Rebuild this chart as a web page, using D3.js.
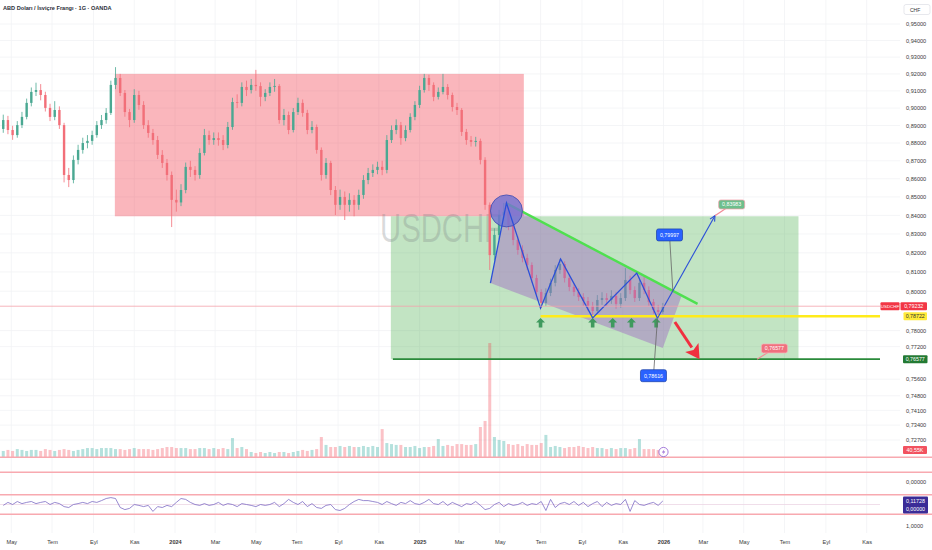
<!DOCTYPE html>
<html>
<head>
<meta charset="utf-8">
<script src="https://d3js.org/d3.v7.min.js"></script>
<style>
  body { margin: 0; background: #fff; }
  text { font-family: "Liberation Sans", Arial, sans-serif; }
  .ptick text { font-size: 5.6px; fill: #3a3a3a; }
  .ttick text { font-size: 5.6px; fill: #3a3a3a; }
  .ptick .domain, .ttick .domain { display: none; }
  .badge-txt { font-size: 5.3px; text-anchor: middle; }
</style>
</head>
<body>
<svg id="chart" width="932" height="550"></svg>
<script>
// weekly candles, first week starts on this monday
const firstWeek = "2023-04-17";

const opens = [0.8880,0.8931,0.8874,0.8845,0.8902,0.8949,0.9030,0.9094,0.9105,0.9076,
 0.9001,0.8949,0.8989,0.8902,0.8621,0.8593,0.8705,0.8761,0.8800,0.8812,
 0.8845,0.8902,0.8931,0.8972,0.9135,0.9176,0.9088,0.8977,0.8931,0.9076,
 0.9018,0.8902,0.8857,0.8817,0.8733,0.8688,0.8621,0.8484,0.8470,0.8538,
 0.8666,0.8649,0.8621,0.8744,0.8845,0.8817,0.8828,0.8817,0.8789,0.8891,
 0.9035,0.9030,0.9123,0.9105,0.9135,0.9128,0.9065,0.9088,0.9123,0.9129,
 0.8931,0.8960,0.8874,0.8977,0.9030,0.8972,0.8874,0.8891,0.8761,0.8621,
 0.8688,0.8538,0.8457,0.8500,0.8457,0.8484,0.8457,0.8511,0.8593,0.8632,
 0.8649,0.8666,0.8649,0.8817,0.8874,0.8902,0.8828,0.8874,0.8949,0.9018,
 0.9105,0.9176,0.9135,0.9065,0.9094,0.9123,0.9076,0.9006,0.8989,0.8863,
 0.8817,0.8806,0.8812,0.8705,0.8457,0.8188,0.8295,0.8402,0.8419,0.8348,
 0.8268,0.8215,0.8173,0.8136,0.8068,0.7996,0.7940,0.7991,0.8043,0.8110,
 0.8141,0.8068,0.8022,0.7996,0.7970,0.7950,0.7924,0.7899,0.7955,0.7965,
 0.7955,0.7976,0.7935,0.7965,0.8058,0.8006,0.7965,0.8043,0.8006,0.7945,
 0.7904,0.7894];

const highs = [0.8962,0.8955,0.8898,0.8925,0.8978,0.9055,0.9120,0.9148,0.9140,0.9095,
 0.9025,0.9040,0.9010,0.8915,0.8660,0.8730,0.8790,0.8830,0.8845,0.8870,
 0.8925,0.8960,0.9000,0.9160,0.9240,0.9200,0.9105,0.8995,0.9110,0.9100,
 0.9040,0.8930,0.8880,0.8840,0.8760,0.8710,0.8640,0.8540,0.8570,0.8690,
 0.8700,0.8670,0.8770,0.8880,0.8870,0.8860,0.8860,0.8845,0.8920,0.9060,
 0.9080,0.9150,0.9160,0.9170,0.9224,0.9150,0.9110,0.9150,0.9170,0.9140,
 0.8995,0.8980,0.9000,0.9060,0.9050,0.8990,0.8925,0.8905,0.8775,0.8715,
 0.8700,0.8560,0.8540,0.8530,0.8520,0.8510,0.8540,0.8620,0.8660,0.8680,
 0.8695,0.8700,0.8845,0.8900,0.8935,0.8920,0.8900,0.8970,0.9040,0.9130,
 0.9200,0.9195,0.9150,0.9120,0.9200,0.9140,0.9090,0.9030,0.9000,0.8880,
 0.8840,0.8835,0.8825,0.8720,0.8470,0.8330,0.8430,0.8467,0.8440,0.8370,
 0.8290,0.8240,0.8195,0.8150,0.8085,0.8010,0.8015,0.8065,0.8135,0.8168,
 0.8155,0.8085,0.8040,0.8015,0.7990,0.7970,0.7945,0.7980,0.7995,0.7990,
 0.8005,0.7995,0.7990,0.8120,0.8080,0.8025,0.8070,0.8075,0.8025,0.7960,
 0.7930,0.7940];

const lows = [0.8858,0.8850,0.8818,0.8830,0.8885,0.8935,0.9010,0.9070,0.9045,0.8980,
 0.8925,0.8930,0.8880,0.8580,0.8554,0.8575,0.8680,0.8740,0.8770,0.8790,
 0.8830,0.8880,0.8910,0.8960,0.9110,0.9070,0.8950,0.8890,0.8915,0.8990,
 0.8880,0.8830,0.8790,0.8710,0.8660,0.8590,0.8337,0.8420,0.8450,0.8520,
 0.8610,0.8590,0.8600,0.8730,0.8790,0.8790,0.8785,0.8760,0.8770,0.8875,
 0.9000,0.9010,0.9070,0.9085,0.9100,0.9010,0.9040,0.9070,0.9095,0.8910,
 0.8900,0.8850,0.8860,0.8960,0.8950,0.8850,0.8855,0.8740,0.8590,0.8600,
 0.8510,0.8402,0.8430,0.8375,0.8420,0.8395,0.8430,0.8490,0.8570,0.8610,
 0.8625,0.8620,0.8630,0.8800,0.8850,0.8790,0.8810,0.8860,0.8930,0.9000,
 0.9090,0.9100,0.9040,0.9050,0.9080,0.9050,0.8980,0.8960,0.8840,0.8790,
 0.8780,0.8780,0.8680,0.8430,0.8110,0.8160,0.8270,0.8370,0.8320,0.8240,
 0.8190,0.8150,0.8110,0.8045,0.7975,0.7914,0.7925,0.7975,0.8025,0.8090,
 0.8045,0.8000,0.7975,0.7950,0.7925,0.7900,0.7874,0.7885,0.7930,0.7925,
 0.7935,0.7910,0.7915,0.7950,0.7985,0.7945,0.7950,0.7985,0.7925,0.7885,
 0.7874,0.7885];

const closes = [0.8931,0.8874,0.8845,0.8902,0.8949,0.9030,0.9094,0.9105,0.9076,0.9001,
 0.8949,0.8989,0.8902,0.8621,0.8593,0.8705,0.8761,0.8800,0.8812,0.8845,
 0.8902,0.8931,0.8972,0.9135,0.9176,0.9088,0.8977,0.8931,0.9076,0.9018,
 0.8902,0.8857,0.8817,0.8733,0.8688,0.8621,0.8484,0.8470,0.8538,0.8666,
 0.8649,0.8621,0.8744,0.8845,0.8817,0.8828,0.8817,0.8789,0.8891,0.9035,
 0.9030,0.9123,0.9105,0.9135,0.9128,0.9065,0.9088,0.9123,0.9129,0.8931,
 0.8960,0.8874,0.8977,0.9030,0.8972,0.8874,0.8891,0.8761,0.8621,0.8688,
 0.8538,0.8457,0.8500,0.8457,0.8484,0.8457,0.8511,0.8593,0.8632,0.8649,
 0.8666,0.8649,0.8817,0.8874,0.8902,0.8828,0.8874,0.8949,0.9018,0.9105,
 0.9176,0.9135,0.9065,0.9094,0.9123,0.9076,0.9006,0.8989,0.8863,0.8817,
 0.8806,0.8812,0.8705,0.8457,0.8188,0.8295,0.8402,0.8419,0.8348,0.8268,
 0.8215,0.8173,0.8136,0.8068,0.7996,0.7940,0.7991,0.8043,0.8110,0.8141,
 0.8068,0.8022,0.7996,0.7970,0.7950,0.7924,0.7899,0.7955,0.7965,0.7955,
 0.7976,0.7935,0.7965,0.8058,0.8006,0.7965,0.8043,0.8006,0.7945,0.7904,
 0.7894,0.79232];

// volume in K
const volumes = [35,41,35,46,41,35,41,41,35,46,41,35,41,46,41,35,41,
 46,52,52,46,52,52,52,
 46,46,41,46,52,46,46,46,41,46,52,
 58,58,52,
 52,52,46,46,52,52,46,52,46,52,46,
 110,
 52,58,46,
 29,23,29,23,29,23,29,29,23,29,
 35,41,35,41,
 46,116,
 70,58,58,64,58,64,58,58,64,58,64,58,
 162,
 81,75,70,70,
 58,58,64,52,58,58,64,
 104,
 64,70,64,75,75,70,
 70,75,
 174,209,661,116,99,93,
 75,70,75,64,75,70,70,81,
 128,
 58,64,58,52,58,58,64,58,52,58,
 52,52,46,52,46,52,52,46,52,
 104,
 46,46,46,41,40.55];

// lower oscillator pane
const osc = [-0.03,0.07,0,0.1,0.03,0.07,0.1,0.03,0.07,0.1,0,0.07,0.03,-0.07,-0.1,0,0.03,0.07,0.03,0.1,0.07,
 0.13,0.2,0.23,0.2,
 -0.1,-0.17,-0.13,
 0,-0.03,-0.07,-0.03,
 -0.23,
 -0.07,-0.1,-0.03,-0.07,
 0.07,0.2,0.17,0.07,
 0,-0.03,0.03,-0.03,0,0.07,-0.03,0.03,0,-0.07,0.03,0,-0.03,-0.07,0,
 -0.03,0,0.07,-0.07,0.03,0.17,0.07,
 0,0.1,-0.07,0.03,-0.1,-0.13,-0.03,0,
 -0.17,-0.2,-0.13,0,
 0.1,0.17,0.13,0.13,0.1,0.07,
 0,0.1,0.03,-0.03,0.07,0.03,0.13,0.03,0,0.07,
 0.17,0.03,0,0.1,-0.03,0.07,0,-0.07,0.03,0,
 0.1,-0.03,-0.17,-0.13,0,0.07,-0.07,0.03,-0.03,0,
 0.07,-0.03,0.03,0,0.1,-0.2,0.17,-0.1,0.03,0.07,
 0,0.1,-0.03,0.07,-0.07,0.03,0.1,-0.07,0.07,-0.03,
 0.03,0,0.17,-0.23,0.13,0,-0.03,0.03,0.07,-0.03,0.11728];

const priceTicks = [0.95,0.94,0.93,0.92,0.91,0.90,0.89,0.88,0.87,0.86,0.85,0.84,0.83,0.82,0.81,0.80,0.78,0.772,0.756,0.748,0.741,0.734,0.727];
const monthTicks = ["2023-05-01","2023-07-01","2023-09-01","2023-11-01","2024-01-01","2024-03-01","2024-05-01","2024-07-01","2024-09-01","2024-11-01","2025-01-01","2025-03-01","2025-05-01","2025-07-01","2025-09-01","2025-11-01","2026-01-01","2026-03-01","2026-05-01","2026-07-01","2026-09-01","2026-11-01"];
const monthLabels = ["May","Tem","Eyl","Kas","2024","Mar","May","Tem","Eyl","Kas","2025","Mar","May","Tem","Eyl","Kas","2026","Mar","May","Tem","Eyl","Kas"];

// drawings on the chart (date, price)
const zoneDates = [["2023-10-03","2025-06-06"], ["2024-11-19","2026-07-22"]];
const zonePrices = [[0.92,0.8395], [0.8395,0.76577]];
const channel = [["2025-04-17",0.8042],["2025-05-11",0.8467],["2026-01-28",0.7976],["2025-12-31",0.7713]];
const zigzag = [["2025-04-17",0.8042],["2025-05-11",0.8467],["2025-07-01",0.7913],["2025-07-31",0.8168],["2025-09-17",0.7864],["2025-11-22",0.8094],["2025-12-23",0.78616]];
const targetArrow = [["2025-12-23",0.78616],["2026-03-19",0.83983]];
const trendLine = [["2025-05-10",0.8467],["2026-02-21",0.7935]];
const topCircle = ["2025-05-11",0.8424];
const dropArrow = [["2026-01-18",0.7843],["2026-02-24",0.7658]];
const supportDates = ["2025-07-01","2025-09-17","2025-10-17","2025-11-14","2025-12-21"];
const supportPrice = 0.7864;
const yellowLine = ["2025-07-01",0.78722];
const greenLine = ["2024-11-22",0.76577];
const lastPrice = 0.79232;
const noteText = ["0,79997","0,78616","0,83983","0,76577"];
const notePoint = [["2026-01-15",0.79997],["2025-12-23",0.78616],["2026-03-19",0.83983],["2026-05-21",0.76577]];
const noteBox = [["2026-01-10",0.8295],["2025-12-17",0.7577],["2026-04-13",0.8459],["2026-06-16",0.7711]];

const parse = d3.timeParse("%Y-%m-%d");
const svg = d3.select("#chart");
const plotRight = 880, paneBottom = 457;

const x = d3.scaleTime().domain([new Date(2024,0,1), new Date(2026,0,1)]).range([175, 663.5]);
const y = d3.scaleLog().domain([0.727, 0.95]).range([440, 24]);
const vy = d3.scaleLinear().domain([0, 700]).range([paneBottom, paneBottom - 700/5.8]);
const oy = d3.scaleLinear().domain([-0.25, 0.25]).range([512, 497]);

const week = i => d3.timeDay.offset(parse(firstWeek), i * 7 + 2);
const px = d => x(parse(d[0]));
const py = d => y(d[1]);

svg.append("defs").append("clipPath").attr("id", "main")
  .append("rect").attr("x", 0).attr("y", 0).attr("width", plotRight).attr("height", paneBottom);

// grid
const grid = svg.append("g").attr("stroke", "#f1f2f5").attr("stroke-width", 0.8);
grid.selectAll("line.h").data(priceTicks).join("line")
  .attr("x1", 0).attr("x2", 900).attr("y1", d => y(d)).attr("y2", d => y(d));
grid.selectAll("line.v").data(monthTicks).join("line")
  .attr("x1", d => x(parse(d))).attr("x2", d => x(parse(d))).attr("y1", 0).attr("y2", 533);

const main = svg.append("g").attr("clip-path", "url(#main)");

// zones
main.selectAll("rect.zone").data(zoneDates).join("rect")
  .attr("x", d => x(parse(d[0])))
  .attr("width", d => x(parse(d[1])) - x(parse(d[0])))
  .attr("y", (d, i) => y(zonePrices[i][0]))
  .attr("height", (d, i) => y(zonePrices[i][1]) - y(zonePrices[i][0]))
  .attr("fill", (d, i) => i === 0 ? "rgba(242,54,69,0.36)" : "rgba(76,175,80,0.34)");

// watermark
main.append("text").attr("x", 380).attr("y", 242)
  .attr("textLength", 122).attr("lengthAdjust", "spacingAndGlyphs")
  .style("font-size", "41px").attr("fill", "rgba(120,125,130,0.28)").text("USDCHF");

// volume
main.selectAll("rect.vol").data(volumes).join("rect")
  .attr("x", (d, i) => x(week(i)) - 1.5).attr("width", 3)
  .attr("y", d => vy(d)).attr("height", d => paneBottom - vy(d))
  .attr("fill", (d, i) => closes[i] >= opens[i] ? "rgba(38,166,154,0.34)" : "rgba(242,54,69,0.3)");

// candles
const candles = main.selectAll("g.c").data(closes).join("g")
  .attr("stroke", (d, i) => d >= opens[i] ? "#4aa892" : "#f26f79")
  .attr("fill", (d, i) => d >= opens[i] ? "#4aa892" : "#f26f79");
candles.append("line")
  .attr("x1", (d, i) => x(week(i))).attr("x2", (d, i) => x(week(i)))
  .attr("y1", (d, i) => y(highs[i])).attr("y2", (d, i) => y(lows[i]))
  .attr("stroke-width", 0.8);
candles.append("rect")
  .attr("x", (d, i) => x(week(i)) - 1.2).attr("width", 2.4)
  .attr("y", (d, i) => y(Math.max(d, opens[i])))
  .attr("height", (d, i) => Math.max(0.6, Math.abs(y(d) - y(opens[i]))))
  .attr("stroke", "none");

// channel
main.append("polygon")
  .attr("points", channel.map(d => [px(d), py(d)].join(",")).join(" "))
  .attr("fill", "rgba(160,105,195,0.45)");

// current price line
svg.append("line").attr("x1", 0).attr("x2", plotRight).attr("y1", y(lastPrice)).attr("y2", y(lastPrice))
  .attr("stroke", "#f5a3ab").attr("stroke-width", 0.8);

// horizontal levels
main.append("line").attr("x1", px(yellowLine)).attr("x2", plotRight)
  .attr("y1", py(yellowLine)).attr("y2", py(yellowLine))
  .attr("stroke", "#ffeb1a").attr("stroke-width", 2.6);
main.append("line").attr("x1", px(greenLine)).attr("x2", plotRight)
  .attr("y1", py(greenLine)).attr("y2", py(greenLine))
  .attr("stroke", "#2a8a3a").attr("stroke-width", 1.8);

// trend line
main.append("line").attr("x1", px(trendLine[0])).attr("y1", py(trendLine[0]))
  .attr("x2", px(trendLine[1])).attr("y2", py(trendLine[1]))
  .attr("stroke", "#4fe04f").attr("stroke-width", 2.4);

// circle at top
main.append("circle").attr("cx", px(topCircle)).attr("cy", py(topCircle)).attr("r", 16)
  .attr("fill", "rgba(115,115,210,0.82)").attr("stroke", "#3f4bb0").attr("stroke-width", 0.8);

// zigzag
const line = d3.line().x(px).y(py);
main.append("path").attr("d", line(zigzag)).attr("fill", "none")
  .attr("stroke", "#2b4fd8").attr("stroke-width", 1.3);
main.append("path").attr("d", line(targetArrow)).attr("fill", "none")
  .attr("stroke", "#2b4fd8").attr("stroke-width", 1.1);
{
  const x1 = px(targetArrow[0]), y1 = py(targetArrow[0]), x2 = px(targetArrow[1]), y2 = py(targetArrow[1]);
  const a = Math.atan2(y2 - y1, x2 - x1);
  const h = [a + Math.PI - 0.45, a + Math.PI + 0.45].map(t => [x2 + 6 * Math.cos(t), y2 + 6 * Math.sin(t)]);
  main.append("path").attr("d", `M${h[0]}L${x2},${y2}L${h[1]}`).attr("fill", "none")
    .attr("stroke", "#2b4fd8").attr("stroke-width", 1.1);
}

// red drop arrow
{
  const x1 = px(dropArrow[0]), y1 = py(dropArrow[0]), x2 = px(dropArrow[1]), y2 = py(dropArrow[1]);
  const a = Math.atan2(y2 - y1, x2 - x1);
  const bx = x2 - 14 * Math.cos(a), by = y2 - 14 * Math.sin(a);
  const nx = -Math.sin(a), ny = Math.cos(a);
  main.append("line").attr("x1", x1).attr("y1", y1).attr("x2", bx).attr("y2", by)
    .attr("stroke", "#f0303f").attr("stroke-width", 3);
  main.append("polygon")
    .attr("points", `${x2},${y2} ${bx + 8 * nx},${by + 8 * ny} ${bx + 3 * Math.cos(a)},${by + 3 * Math.sin(a)} ${bx - 8 * nx},${by - 8 * ny}`)
    .attr("fill", "#f0303f");
}

// support arrows
main.selectAll("path.up").data(supportDates).join("path")
  .attr("transform", d => `translate(${x(parse(d))},${y(supportPrice)})`)
  .attr("d", "M0,0L4.5,4.5L1.8,4.5L1.8,9.5L-1.8,9.5L-1.8,4.5L-4.5,4.5Z")
  .attr("fill", "#3f9a5e");

// note labels
const notes = main.selectAll("g.note").data(noteText).join("g");
notes.append("line")
  .attr("x1", (d, i) => px(notePoint[i])).attr("y1", (d, i) => py(notePoint[i]))
  .attr("x2", (d, i) => px(noteBox[i])).attr("y2", (d, i) => py(noteBox[i]))
  .attr("stroke", (d, i) => i < 2 ? "#666" : "#f28a96").attr("stroke-width", (d, i) => i < 2 ? 0.8 : 1.2);
notes.append("rect")
  .attr("x", (d, i) => px(noteBox[i]) - 13).attr("y", (d, i) => py(noteBox[i]) - (i < 2 ? 6 : 4.5))
  .attr("width", 26).attr("height", (d, i) => i < 2 ? 12 : 9).attr("rx", 2)
  .attr("fill", (d, i) => ["#2962ff", "#2962ff", "#6dbf8c", "#f0707e"][i])
  .attr("stroke", (d, i) => ["#1a3fa8", "#1a3fa8", "#f3a0aa", "#f7b0b8"][i]).attr("stroke-width", 0.7);
notes.append("text").attr("class", "badge-txt")
  .attr("x", (d, i) => px(noteBox[i])).attr("y", (d, i) => py(noteBox[i]) + 1.9)
  .attr("fill", "#fff").text(d => d);

// oscillator pane
svg.append("line").attr("x1", 0).attr("x2", plotRight).attr("y1", oy(0)).attr("y2", oy(0))
  .attr("stroke", "#ecd6e4").attr("stroke-width", 0.8);
svg.append("path").attr("d", d3.line().x((d, i) => x(week(i))).y(d => oy(d))(osc))
  .attr("fill", "none").attr("stroke", "#7e6cc4").attr("stroke-width", 0.8);

// pane separators
svg.selectAll("line.sep").data([457.3, 472.3, 494.7, 514.3]).join("line")
  .attr("x1", 0).attr("x2", 932).attr("y1", d => d).attr("y2", d => d)
  .attr("stroke", "#f8a9b0").attr("stroke-width", 1.4);

// lightning mark
{
  const lx = x(parse("2026-01-01")), ly = 452;
  svg.append("circle").attr("cx", lx).attr("cy", ly).attr("r", 4.6)
    .attr("fill", "#fff").attr("stroke", "#8e5bd0").attr("stroke-width", 0.8);
  svg.append("path").attr("d", `M${lx + 1},${ly - 3}L${lx - 1.6},${ly + 0.5}L${lx + 0.3},${ly + 0.5}L${lx - 1},${ly + 3}L${lx + 1.8},${ly - 0.6}L${lx - 0.1},${ly - 0.6}Z`)
    .attr("fill", "#8e5bd0");
}

// axes
const fmt = d => d3.format(".5f")(d).replace(".", ",");
svg.append("g").attr("class", "ptick").attr("transform", "translate(906,0)")
  .call(d3.axisRight(y).tickValues(priceTicks).tickSize(0).tickPadding(0).tickFormat(fmt));
const tax = svg.append("g").attr("class", "ttick").attr("transform", "translate(0,540)")
  .call(d3.axisBottom(x).tickValues(monthTicks.map(parse)).tickSize(0).tickPadding(0)
    .tickFormat((d, i) => monthLabels[i]));
tax.selectAll("text").style("font-weight", (d, i) => /^20/.test(monthLabels[i]) ? "bold" : "normal");

// axis badges
function badge(x0, cy, w, h, txt, fill, color, fs) {
  svg.append("rect").attr("x", x0).attr("y", cy - h / 2).attr("width", w).attr("height", h)
    .attr("rx", 1).attr("fill", fill);
  svg.append("text").attr("class", "badge-txt").attr("x", x0 + w / 2).attr("y", cy + 1.9)
    .style("font-size", (fs || 5.3) + "px").attr("fill", color).text(txt);
}
badge(880.5, y(lastPrice), 19, 8, "USDCHF", "#f23645", "#fff", 4.4);
badge(900.5, y(lastPrice), 26.5, 8, fmt(lastPrice), "#f23645", "#fff");
badge(903.5, y(0.78722), 23.5, 8, "0,78722", "#ffeb3b", "#333");
badge(903, y(0.76577), 24.5, 8, "0,76577", "#237a33", "#fff");
badge(903, vy(40.55), 24, 8, "40,55K", "#f2525f", "#fff");

svg.append("text").attr("x", 906).attr("y", 484.3).style("font-size", "5.6px").attr("fill", "#3a3a3a").text("0,00000");
svg.append("rect").attr("x", 903).attr("y", 496.5).attr("width", 25).attr("height", 17).attr("rx", 1).attr("fill", "#3b2c97");
svg.append("text").attr("class", "badge-txt").attr("x", 915.5).attr("y", 502.8).attr("fill", "#fff").text("0,11728");
svg.append("text").attr("class", "badge-txt").attr("x", 915.5).attr("y", 511.3).attr("fill", "#fff").text("0,00000");
svg.append("text").attr("x", 906).attr("y", 527.7).style("font-size", "5.6px").attr("fill", "#3a3a3a").text("1,0000");

// currency box and title
svg.append("rect").attr("x", 904).attr("y", 4.5).attr("width", 26).attr("height", 10).attr("rx", 2)
  .attr("fill", "#fff").attr("stroke", "#d6d9e0").attr("stroke-width", 0.6);
svg.append("text").attr("x", 910).attr("y", 11.5).style("font-size", "5px").attr("fill", "#333").text("CHF");
svg.append("text").attr("x", 3).attr("y", 9.5).style("font-size", "5.6px").style("font-weight", "bold")
  .attr("fill", "#2a2e39").text("ABD Doları / İsviçre Frangı · 1G · OANDA");
</script>
</body>
</html>
